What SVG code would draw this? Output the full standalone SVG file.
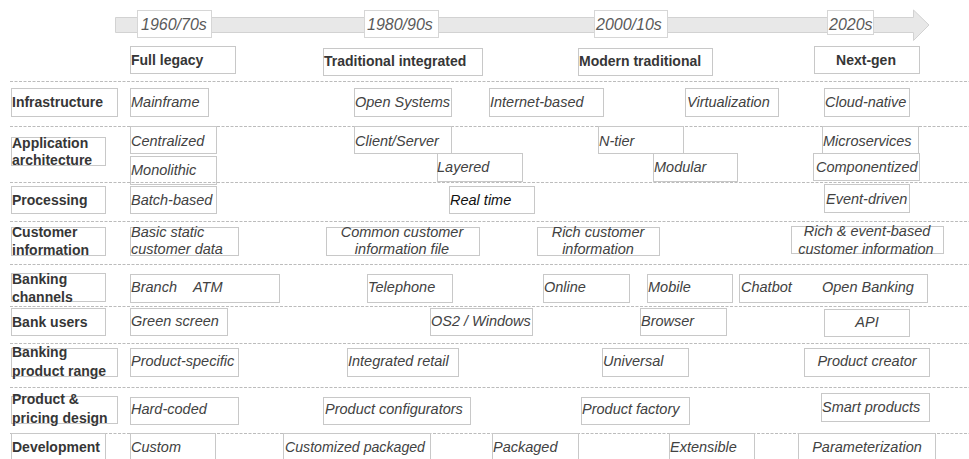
<svg xmlns="http://www.w3.org/2000/svg" width="969" height="459" viewBox="0 0 969 459">
<style>
.bx{fill:none;stroke:#c8c8c8;stroke-width:1}
.wb{fill:#fff;stroke:#d6d6d6;stroke-width:1}
.lb{font-family:"Liberation Sans",Arial,sans-serif;font-weight:bold;font-size:14px;fill:#363636}
.it{font-family:"Liberation Sans",Arial,sans-serif;font-style:italic;font-size:14.5px;fill:#424242}
.yr{font-family:"Liberation Sans",Arial,sans-serif;font-style:italic;font-size:16px;fill:#5a5a5a}
.dk{fill:#111}
.c{text-anchor:middle}
.sep{stroke:#bcbcbc;stroke-width:1;stroke-dasharray:3 1.5;fill:none}
</style>
<rect width="969" height="459" fill="#fff"/>
<g id="timeline">
<polygon points="115.5,17.5 913.5,17.5 913.5,10 929,25 913.5,40.5 913.5,32.5 115.5,32.5" fill="#e8e8e8" stroke="#d2d2d2"/>
<rect class="wb" x="137.5" y="10.5" width="74" height="27"/>
<text class="yr" x="141" y="30">1960/70s</text>
<rect class="wb" x="364.5" y="10.5" width="74" height="27"/>
<text class="yr" x="367" y="30">1980/90s</text>
<rect class="wb" x="594.5" y="10.5" width="73" height="27"/>
<text class="yr" x="596" y="30">2000/10s</text>
<rect class="wb" x="827.5" y="10.5" width="46" height="24"/>
<text class="yr" x="829" y="30">2020s</text>
</g>
<g id="separators">
<path class="sep" d="M10 81.5H969M10 126.5H969M10 182.5H969M10 221.5H969M10 264.5H969M10 306.5H969M10 343.5H969M10 387.5H969M10 433.5H969"/>
</g>
<g id="stage-full-legacy"><rect class="bx" x="130.5" y="46.5" width="105" height="27"/><text class="lb" x="131" y="65">Full legacy</text></g>
<g id="stage-traditional"><rect class="bx" x="323.5" y="48.5" width="159" height="27"/><text class="lb" x="324" y="66">Traditional integrated</text></g>
<g id="stage-modern"><rect class="bx" x="578.5" y="48.5" width="134" height="27"/><text class="lb" x="579" y="66">Modern traditional</text></g>
<g id="stage-nextgen"><rect class="bx" x="814.5" y="46.5" width="105" height="27"/><text class="lb c" x="866" y="65">Next-gen</text></g>

<g id="row-infrastructure"><rect class="bx" x="11.5" y="88.5" width="106" height="28"/><text class="lb" x="12" y="107">Infrastructure</text></g>
<g id="row-application"><rect class="bx" x="11.5" y="137.5" width="94" height="28"/><text class="lb" x="12" y="148">Application</text><text class="lb" x="12" y="165">architecture</text></g>
<g id="row-processing"><rect class="bx" x="11.5" y="186.5" width="94" height="27"/><text class="lb" x="12" y="205">Processing</text></g>
<g id="row-customer"><rect class="bx" x="11.5" y="227.5" width="94" height="28"/><text class="lb" x="12" y="237">Customer</text><text class="lb" x="12" y="255">information</text></g>
<g id="row-channels"><rect class="bx" x="11.5" y="273.5" width="94" height="28"/><text class="lb" x="12" y="284">Banking</text><text class="lb" x="12" y="302">channels</text></g>
<g id="row-users"><rect class="bx" x="11.5" y="308.5" width="94" height="27"/><text class="lb" x="12" y="327">Bank users</text></g>
<g id="row-product-range"><rect class="bx" x="11.5" y="348.5" width="106" height="28"/><text class="lb" x="12" y="357">Banking</text><text class="lb" x="12" y="376">product range</text></g>
<g id="row-pricing"><rect class="bx" x="11.5" y="396.5" width="106" height="27"/><text class="lb" x="12" y="404">Product &amp;</text><text class="lb" x="12" y="423">pricing design</text></g>
<g id="row-development"><rect class="bx" x="11.5" y="433.5" width="94" height="30"/><text class="lb" x="12" y="452">Development</text></g>

<g id="mainframe"><rect class="bx" x="130.5" y="88.5" width="78" height="28"/><text class="it" x="131" y="107">Mainframe</text></g>
<g id="open-systems"><rect class="bx" x="354.5" y="88.5" width="97" height="28"/><text class="it" x="355" y="107">Open Systems</text></g>
<g id="internet-based"><rect class="bx" x="489.5" y="88.5" width="114" height="28"/><text class="it" x="490" y="107">Internet-based</text></g>
<g id="virtualization"><rect class="bx" x="685.5" y="88.5" width="93" height="28"/><text class="it" x="687" y="107">Virtualization</text></g>
<g id="cloud-native"><rect class="bx" x="824.5" y="88.5" width="85" height="28"/><text class="it" x="825" y="107">Cloud-native</text></g>

<g id="centralized"><rect class="bx" x="130.5" y="126.5" width="86" height="27"/><text class="it" x="131" y="146">Centralized</text></g>
<g id="monolithic"><rect class="bx" x="130.5" y="156.5" width="86" height="28"/><text class="it" x="131" y="175">Monolithic</text></g>
<g id="client-server"><rect class="bx" x="354.5" y="126.5" width="97" height="27"/><text class="it" x="355" y="146">Client/Server</text></g>
<g id="layered"><rect class="bx" x="437.5" y="153.5" width="85" height="28"/><text class="it" x="437" y="172">Layered</text></g>
<g id="n-tier"><rect class="bx" x="598.5" y="126.5" width="85" height="27"/><text class="it" x="599" y="146">N-tier</text></g>
<g id="modular"><rect class="bx" x="653.5" y="153.5" width="84" height="28"/><text class="it" x="654" y="172">Modular</text></g>
<g id="microservices"><rect class="bx" x="822.5" y="126.5" width="96" height="27"/><text class="it" x="823" y="146">Microservices</text></g>
<g id="componentized"><rect class="bx" x="813.5" y="153.5" width="106" height="27"/><text class="it" x="816" y="172">Componentized</text></g>

<g id="batch-based"><rect class="bx" x="130.5" y="186.5" width="86" height="27"/><text class="it" x="131" y="205">Batch-based</text></g>
<g id="real-time"><rect class="bx" x="449.5" y="186.5" width="85" height="27"/><text class="it dk" x="450" y="205">Real time</text></g>
<g id="event-driven"><rect class="bx" x="824.5" y="184.5" width="85" height="28"/><text class="it" x="826" y="204">Event-driven</text></g>

<g id="basic-static"><rect class="bx" x="130.5" y="227.5" width="108" height="28"/><text class="it" x="131" y="237">Basic static</text><text class="it" x="131" y="254">customer data</text></g>
<g id="common-customer"><rect class="bx" x="326.5" y="227.5" width="153" height="28"/><text class="it c" x="402" y="237">Common customer</text><text class="it c" x="402" y="254">information file</text></g>
<g id="rich-customer"><rect class="bx" x="537.5" y="227.5" width="122" height="28"/><text class="it c" x="598" y="237">Rich customer</text><text class="it c" x="598" y="254">information</text></g>
<g id="rich-event"><rect class="bx" x="791.5" y="226.5" width="152" height="27"/><text class="it c" x="867" y="236">Rich &amp; event-based</text><text class="it c" x="866" y="254">customer information</text></g>

<g id="branch-atm"><rect class="bx" x="130.5" y="274.5" width="149" height="28"/><text class="it" x="131" y="292">Branch</text><text class="it" x="193" y="292">ATM</text></g>
<g id="telephone"><rect class="bx" x="367.5" y="274.5" width="85" height="28"/><text class="it" x="368" y="292">Telephone</text></g>
<g id="online"><rect class="bx" x="543.5" y="274.5" width="86" height="28"/><text class="it" x="544" y="292">Online</text></g>
<g id="mobile"><rect class="bx" x="647.5" y="274.5" width="85" height="28"/><text class="it" x="648" y="292">Mobile</text></g>
<g id="chatbot-open-banking"><rect class="bx" x="739.5" y="274.5" width="188" height="28"/><text class="it" x="741" y="292">Chatbot</text><text class="it" x="822" y="292">Open Banking</text></g>

<g id="green-screen"><rect class="bx" x="130.5" y="308.5" width="97" height="27"/><text class="it" x="131" y="326">Green screen</text></g>
<g id="os2-windows"><rect class="bx" x="430.5" y="308.5" width="102" height="27"/><text class="it" x="431" y="326">OS2 / Windows</text></g>
<g id="browser"><rect class="bx" x="640.5" y="308.5" width="86" height="27"/><text class="it" x="641" y="326">Browser</text></g>
<g id="api"><rect class="bx" x="824.5" y="309.5" width="85" height="27"/><text class="it c" x="867" y="327">API</text></g>

<g id="product-specific"><rect class="bx" x="130.5" y="348.5" width="108" height="28"/><text class="it" x="131" y="366">Product-specific</text></g>
<g id="integrated-retail"><rect class="bx" x="347.5" y="348.5" width="111" height="28"/><text class="it" x="348" y="366">Integrated retail</text></g>
<g id="universal"><rect class="bx" x="602.5" y="348.5" width="86" height="28"/><text class="it" x="603" y="366">Universal</text></g>
<g id="product-creator"><rect class="bx" x="804.5" y="348.5" width="125" height="28"/><text class="it c" x="867" y="366">Product creator</text></g>

<g id="hard-coded"><rect class="bx" x="130.5" y="397.5" width="108" height="27"/><text class="it" x="131" y="414">Hard-coded</text></g>
<g id="product-configurators"><rect class="bx" x="323.5" y="397.5" width="147" height="27"/><text class="it" x="325" y="414">Product configurators</text></g>
<g id="product-factory"><rect class="bx" x="581.5" y="397.5" width="108" height="27"/><text class="it" x="582" y="414">Product factory</text></g>
<g id="smart-products"><rect class="bx" x="821.5" y="393.5" width="108" height="28"/><text class="it" x="822" y="412">Smart products</text></g>

<g id="custom"><rect class="bx" x="130.5" y="433.5" width="85" height="30"/><text class="it" x="131" y="452">Custom</text></g>
<g id="customized-packaged"><rect class="bx" x="283.5" y="433.5" width="147" height="30"/><text class="it" x="285" y="452" textLength="140" lengthAdjust="spacingAndGlyphs">Customized packaged</text></g>
<g id="packaged"><rect class="bx" x="492.5" y="433.5" width="86" height="30"/><text class="it" x="493" y="452">Packaged</text></g>
<g id="extensible"><rect class="bx" x="669.5" y="433.5" width="85" height="30"/><text class="it" x="670" y="452">Extensible</text></g>
<g id="parameterization"><rect class="bx" x="798.5" y="433.5" width="137" height="30"/><text class="it c" x="867" y="452">Parameterization</text></g>
</svg>
